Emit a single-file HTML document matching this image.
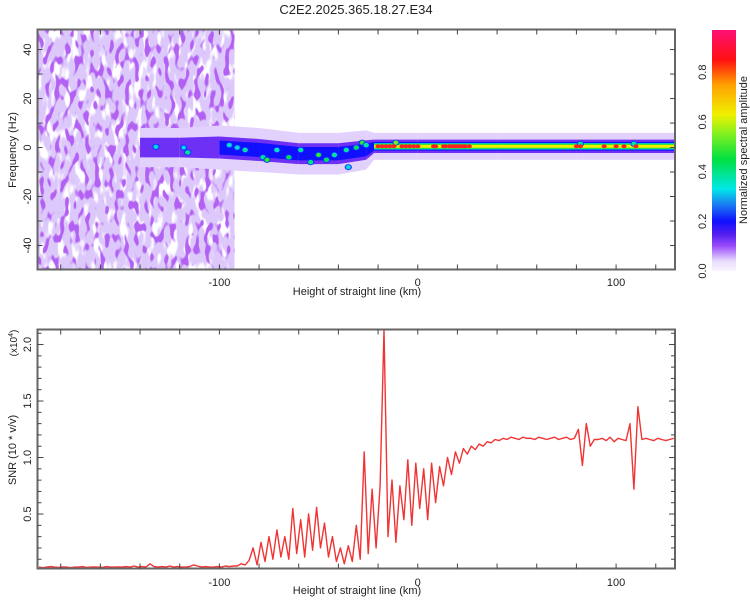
<!DOCTYPE html>
<html><head><meta charset="utf-8"><style>
html,body{margin:0;padding:0;background:#fff;}
svg{display:block;font-family:"Liberation Sans",sans-serif;}
</style></head><body>
<svg id="c" width="750" height="600" viewBox="0 0 750 600" xmlns="http://www.w3.org/2000/svg">
<defs>
<clipPath id="clipTop"><rect x="37.5" y="29.5" width="637.5" height="240"/></clipPath>
<clipPath id="clipBot"><rect x="37.5" y="329.5" width="637.5" height="239"/></clipPath>
<filter id="nz" x="0" y="0" width="1" height="1">
<feTurbulence type="fractalNoise" baseFrequency="0.2 0.09" numOctaves="1" seed="7"/>
<feColorMatrix type="matrix" values="0 0 0 0 0.45  0 0 0 0 0.12  0 0 0 0 0.9  12 0 0 0 -6.5"/>
</filter>
<filter id="nz2" x="0" y="0" width="1" height="1">
<feTurbulence type="fractalNoise" baseFrequency="0.14 0.05" numOctaves="2" seed="2"/>
<feColorMatrix type="matrix" values="0 0 0 0 1  0 0 0 0 1  0 0 0 0 1  7 0 0 0 -3.7"/>
</filter>
<linearGradient id="cbGrad" x1="0" y1="1" x2="0" y2="0"></linearGradient>
</defs>
<text x="356" y="14" text-anchor="middle" font-size="13" fill="#222">C2E2.2025.365.18.27.E34</text>
<g id="topPlot" clip-path="url(#clipTop)">
<rect x="37.5" y="29.5" width="197" height="240" fill="#dcc8fb"/>
<rect x="37.5" y="29.5" width="197" height="240" filter="url(#nz2)"/>
<rect x="37.5" y="29.5" width="197" height="240" filter="url(#nz)"/>
</g>
<g id="botPlot" clip-path="url(#clipBot)"></g>
<g id="axes"></g>
</svg>
<script>
// ---- data ----
const ridgeKm     = [-140,-120,-100,-80,-60,-40,-26,-22,0,40,80,130];
const ridgeCenter = [0,0,0,-1,-2.5,-2.5,-1,0.5,0.5,0.5,0.5,0.5];
const ridgeHalf   = [8,8,9,9,8.5,8.5,8,5.5,5.5,5.5,5.5,5.5];
const ridgePeak   = [0.15,0.16,0.21,0.21,0.21,0.21,0.21,0.9,0.9,0.85,0.85,0.85];
const blobKm  = [-132,-118,-116,-95,-91,-87,-78,-76,-71,-65,-59,-54,-50,-46,-42,-36,-35,-31,-28,-26,-11,82,109];
const blobHz  = [0.3,0,-2,1,0,-1,-4,-5,-1,-4,-1,-6,-3,-5,-3,-1,-8,0,2,1,2,1.5,1.5];
const blobAmp = [0.35,0.33,0.4,0.35,0.35,0.4,0.4,0.5,0.38,0.45,0.4,0.42,0.5,0.45,0.4,0.4,0.35,0.45,0.5,0.4,0.55,0.4,0.4];
const redKm = [-20,-18,-16,-14,-12,-8,-6,-4,-2,0,8,9,13,14,16,17,18,19,20,21,22,23,24,26,80,82,94,100,104,110];
const snrStart = -191, snrStep = 2;
const snrValues = [
0.03,0.025,0.03,0.035,0.03,0.028,0.032,0.03,0.025,0.03,
0.03,0.035,0.028,0.03,0.032,0.03,0.028,0.035,0.03,0.03,
0.032,0.03,0.035,0.03,0.04,0.03,0.035,0.03,0.06,0.035,
0.03,0.035,0.03,0.04,0.03,0.035,0.03,0.03,0.035,0.05,
0.04,0.03,0.035,0.03,0.03,0.035,0.03,0.04,0.035,0.04,
0.04,0.06,0.05,0.09,0.2,0.05,0.25,0.08,0.3,0.1,0.36,0.12,0.3,0.1,0.55,0.15,0.45,0.12,0.5,0.18,
0.56,0.2,0.42,0.12,0.3,0.08,0.2,0.06,0.22,0.08,0.4,0.1,1.05,0.15,0.72,0.2,0.75,2.13,0.3,0.8,
0.25,0.75,0.45,0.98,0.4,0.95,0.55,0.9,0.45,0.95,0.6,0.92,0.75,1.0,0.85,1.05,0.95,
1.08,1.03,1.1,1.07,1.12,1.1,1.14,1.13,1.16,1.15,
1.17,1.16,1.18,1.17,1.16,1.18,1.17,1.17,1.16,1.18,1.17,1.16,1.17,1.18,1.16,1.17,1.18,1.16,1.17,
1.25,0.93,1.3,1.1,1.16,
1.16,1.17,1.15,1.18,1.14,1.17,1.16,1.15,
1.3,0.72,1.45,
1.16,1.17,1.16,1.15,1.17,1.16,1.15,1.16,1.17];
const xTicks = [-180,-160,-140,-120,-100,-80,-60,-40,-20,0,20,40,60,80,100,120];
const xLabels = [-100,0,100];
const fTicks = [-40,-30,-20,-10,0,10,20,30,40];
const fLabels = [-40,-20,0,20,40];
const sLabels = ["0.5","1.0","1.5","2.0"];
const cbLabels = ["0.0","0.2","0.4","0.6","0.8"];

// ---- scales ----
const X0=37.5,X1=675,KMIN=-191.7,KMAX=129.7;
const xs=k=>X0+(k-KMIN)*(X1-X0)/(KMAX-KMIN);
const yf=f=>29.5+(48.2-f)*240/98;
const ys=v=>329.5+(2.133-v)*239/2.115;
const NS="http://www.w3.org/2000/svg";
function mk(tag,attrs,parent){const e=document.createElementNS(NS,tag);for(const k in attrs)e.setAttribute(k,attrs[k]);parent.appendChild(e);return e;}
const stops=[[0,[248,244,255]],[0.04,[232,220,253]],[0.1,[155,77,250]],[0.15,[80,28,240]],[0.2,[16,16,255]],[0.27,[26,127,240]],[0.33,[0,232,232]],[0.45,[0,224,64]],[0.55,[128,240,32]],[0.63,[240,240,0]],[0.75,[255,160,0]],[0.85,[255,16,16]],[1,[255,16,144]]];
function cmap(v){for(let i=1;i<stops.length;i++){if(v<=stops[i][0]){const a=stops[i-1],b=stops[i],t=(v-a[0])/(b[0]-a[0]);return 'rgb('+a[1].map((c,j)=>Math.round(c+(b[1][j]-c)*t)).join(',')+')';}}return 'rgb(255,16,144)';}

// ---- spectrogram ----
const topG=document.getElementById('topPlot');
const layers=[[0.04,1],[0.12,0.5],[0.2,0.32],[0.33,0.24],[0.45,0.18],[0.6,0.11]];
const layerCol=[0.045,0.13,0.2,0.36,0.48,0.63];
layers.forEach(([lv,fr],li)=>{
  for(let i=0;i<ridgeKm.length-1;i++){
    if(Math.min(ridgePeak[i],ridgePeak[i+1])<lv)continue;
    const xa=xs(ridgeKm[i]),xb=xs(ridgeKm[i+1]);
    const ua=yf(ridgeCenter[i]+ridgeHalf[i]*fr),ub=yf(ridgeCenter[i+1]+ridgeHalf[i+1]*fr);
    const la=yf(ridgeCenter[i]-ridgeHalf[i]*fr),lb=yf(ridgeCenter[i+1]-ridgeHalf[i+1]*fr);
    const p=mk('path',{d:`M${xa},${ua}L${xb},${ub}L${xb},${lb}L${xa},${la}Z`,fill:cmap(layerCol[li])},topG);
    
    
  }
});
blobKm.forEach((k,i)=>{
  const g=mk('g',{},topG);
  
  
  [[0.22,3.6],[blobAmp[i]-0.04,2.6],[blobAmp[i],1.5]].forEach(([lv,r])=>{
    mk('ellipse',{cx:xs(k),cy:yf(blobHz[i]),rx:r,ry:r*0.85,fill:cmap(lv)},g);
  });
});
redKm.forEach(k=>{
  const e=mk('ellipse',{cx:xs(k),cy:yf(0.5),rx:2.6,ry:1.9,fill:'#ff2020'},topG);
  
  
});

// ---- SNR line ----
const bot=document.getElementById('botPlot');
const pts=snrValues.map((v,i)=>xs(snrStart+i*snrStep).toFixed(1)+','+ys(v).toFixed(1)).join(' ');
const line=mk('polyline',{points:pts,fill:'none',stroke:'#f03434','stroke-width':1.4,'stroke-linejoin':'round'},bot);



// ---- axes ----
const ax=document.getElementById('axes');
function frame(y0,h,name){const r=mk('rect',{x:37.5,y:y0,width:637.5,height:h,fill:'none',stroke:'#666','stroke-width':2},ax);}
frame(29.5,240,'top-frame');frame(329.5,239,'bottom-frame');
function tick(x1,y1,x2,y2){mk('line',{x1,y1,x2,y2,stroke:'#444','stroke-width':1},ax);}
[[29.5,269.5],[329.5,568.5]].forEach(([t,b])=>{xTicks.forEach(k=>{const x=xs(k);tick(x,b,x,b-5);tick(x,t,x,t+5);});});
fTicks.forEach(f=>{const y=yf(f);tick(37.5,y,42.5,y);tick(675,y,670,y);});
for(let v=0.1;v<2.13;v+=0.1){const y=ys(v);const L=(Math.abs(v*2-Math.round(v*2))<0.01)?6:4;tick(37.5,y,37.5+L,y);tick(675,y,675-L,y);}
function txt(s,x,y,rot,name,size){const t=mk('text',{x,y,'text-anchor':'middle','font-size':size||11,fill:'#222'},ax);if(rot)t.setAttribute('transform',`rotate(-90 ${x} ${y})`);t.textContent=s;return t;}
xLabels.forEach(k=>{txt(String(k),xs(k),286,false,'x-tick-label');txt(String(k),xs(k),586,false,'x-tick-label');});
fLabels.forEach(f=>txt(String(f),31,yf(f),true,'y-tick-label'));
sLabels.forEach(s=>txt(s,31,ys(parseFloat(s)),true,'y-tick-label'));
txt('Height of straight line (km)',357,295,false,'x-axis-title');
txt('Height of straight line (km)',357,594,false,'x-axis-title');
txt('Frequency (Hz)',16,150,true,'y-axis-title');
txt('SNR (10 * v/v)',16,450,true,'y-axis-title');
const sc=txt('(x10',17,343,true,'y-axis-scale',10);
const sup=mk('tspan',{dy:-4,'font-size':7},sc);sup.textContent='4';
const cl=mk('tspan',{dy:4},sc);cl.textContent=')';

// ---- colorbar ----
const grad=document.getElementById('cbGrad');
stops.forEach(([v])=>{if(v<=0.97)mk('stop',{offset:(v/0.97).toFixed(3),'stop-color':cmap(v)},grad);});
mk('stop',{offset:1,'stop-color':cmap(0.97)},grad);
const cb=mk('rect',{x:712,y:30,width:24,height:241,fill:'url(#cbGrad)'},ax);


cbLabels.forEach(s=>txt(s,706,271-parseFloat(s)*248.5,true,'colorbar-tick-label'));
txt('Normalized spectral amplitude',747,150,true,'colorbar-title');
</script>
</body></html>
